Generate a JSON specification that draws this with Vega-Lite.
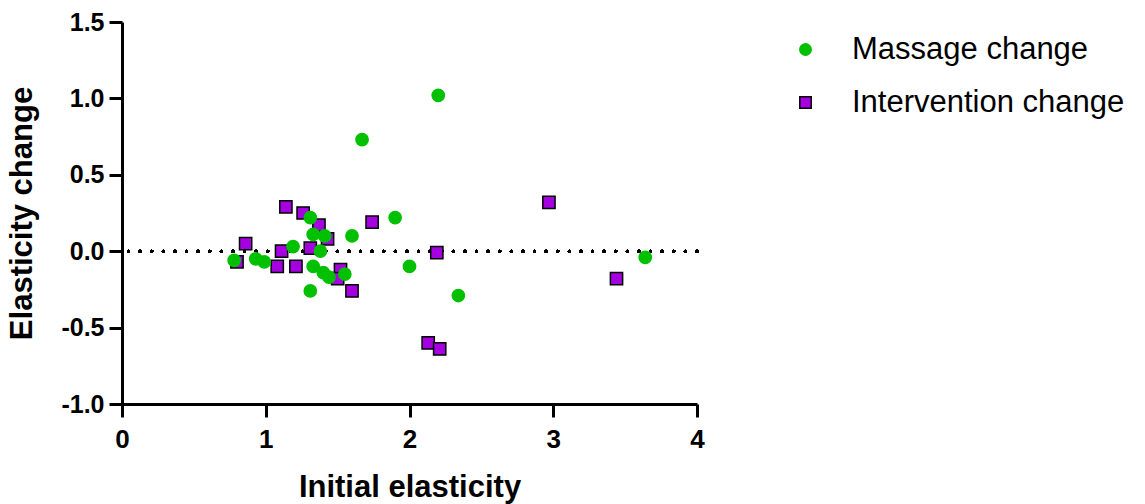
{
  "$schema": "https://vega.github.io/schema/vega-lite/v6.json",
  "width": 575,
  "height": 382,
  "autosize": {"type": "none"},
  "padding": {"left": 122, "top": 22, "right": 448, "bottom": 100},
  "background": "white",
  "config": {
    "view": {"stroke": null},
    "font": "Liberation Sans",
    "axis": {
      "domainColor": "black",
      "domainWidth": 3,
      "tickColor": "black",
      "tickWidth": 3,
      "tickSize": 13,
      "grid": false,
      "labelFlush": false,
      "labelFont": "Liberation Sans",
      "labelFontSize": 25,
      "labelFontWeight": "bold",
      "labelColor": "black",
      "labelPadding": 5,
      "titleFont": "Liberation Sans",
      "titleFontSize": 31,
      "titleFontWeight": "bold",
      "titleColor": "black"
    },
    "legend": {
      "title": null,
      "orient": "none",
      "legendX": 668,
      "legendY": 12,
      "padding": 0,
      "labelFont": "Liberation Sans",
      "labelFontSize": 31,
      "labelColor": "black",
      "labelOffset": 31,
      "labelLimit": 500,
      "rowPadding": 21,
      "symbolSize": 130,
      "symbolStrokeWidth": 1.5
    }
  },
  "data": {
    "values": [
      {"initial": 1.14, "change": 0.29, "series": "Intervention change"},
      {"initial": 1.26, "change": 0.25, "series": "Intervention change"},
      {"initial": 1.37, "change": 0.17, "series": "Intervention change"},
      {"initial": 1.43, "change": 0.08, "series": "Intervention change"},
      {"initial": 1.74, "change": 0.19, "series": "Intervention change"},
      {"initial": 0.86, "change": 0.05, "series": "Intervention change"},
      {"initial": 1.11, "change": 0.00, "series": "Intervention change"},
      {"initial": 1.31, "change": 0.02, "series": "Intervention change"},
      {"initial": 0.80, "change": -0.07, "series": "Intervention change"},
      {"initial": 1.08, "change": -0.10, "series": "Intervention change"},
      {"initial": 1.21, "change": -0.10, "series": "Intervention change"},
      {"initial": 1.52, "change": -0.12, "series": "Intervention change"},
      {"initial": 1.50, "change": -0.18, "series": "Intervention change"},
      {"initial": 1.60, "change": -0.26, "series": "Intervention change"},
      {"initial": 2.19, "change": -0.01, "series": "Intervention change"},
      {"initial": 2.13, "change": -0.60, "series": "Intervention change"},
      {"initial": 2.21, "change": -0.64, "series": "Intervention change"},
      {"initial": 2.97, "change": 0.32, "series": "Intervention change"},
      {"initial": 3.44, "change": -0.18, "series": "Intervention change"},
      {"initial": 0.78, "change": -0.06, "series": "Massage change"},
      {"initial": 0.93, "change": -0.05, "series": "Massage change"},
      {"initial": 0.99, "change": -0.07, "series": "Massage change"},
      {"initial": 1.19, "change": 0.03, "series": "Massage change"},
      {"initial": 1.31, "change": 0.22, "series": "Massage change"},
      {"initial": 1.33, "change": 0.11, "series": "Massage change"},
      {"initial": 1.41, "change": 0.10, "series": "Massage change"},
      {"initial": 1.60, "change": 0.10, "series": "Massage change"},
      {"initial": 1.38, "change": 0.00, "series": "Massage change"},
      {"initial": 1.33, "change": -0.10, "series": "Massage change"},
      {"initial": 1.40, "change": -0.14, "series": "Massage change"},
      {"initial": 1.44, "change": -0.17, "series": "Massage change"},
      {"initial": 1.55, "change": -0.15, "series": "Massage change"},
      {"initial": 1.31, "change": -0.26, "series": "Massage change"},
      {"initial": 1.67, "change": 0.73, "series": "Massage change"},
      {"initial": 1.90, "change": 0.22, "series": "Massage change"},
      {"initial": 2.00, "change": -0.10, "series": "Massage change"},
      {"initial": 2.20, "change": 1.02, "series": "Massage change"},
      {"initial": 2.34, "change": -0.29, "series": "Massage change"},
      {"initial": 3.64, "change": -0.04, "series": "Massage change"}
    ]
  },
  "layer": [
    {
      "mark": {"type": "rule", "color": "black", "strokeWidth": 3, "strokeDash": [0.1, 11.5], "strokeCap": "round"},
      "encoding": {
        "y": {"datum": 0, "type": "quantitative"}
      }
    },
    {
      "mark": {"type": "point", "filled": true, "opacity": 1, "strokeWidth": 1.5, "size": 150},
      "encoding": {
        "x": {
          "field": "initial",
          "type": "quantitative",
          "title": "Initial elasticity",
          "scale": {"domain": [0, 4], "nice": false, "zero": false},
          "axis": {"values": [0, 1, 2, 3, 4], "format": "d", "labelFontSize": 26, "labelPadding": 9, "titlePadding": 20}
        },
        "y": {
          "field": "change",
          "type": "quantitative",
          "title": "Elasticity change",
          "scale": {"domain": [-1, 1.5], "nice": false, "zero": false},
          "axis": {
            "values": [-1, -0.5, 0, 0.5, 1, 1.5],
            "labelExpr": "datum.value < 0 ? '-' + format(-datum.value, '.1f') : format(datum.value, '.1f')",
            "titlePadding": 22
          }
        },
        "fill": {
          "field": "series",
          "type": "nominal",
          "title": null,
          "scale": {"domain": ["Massage change", "Intervention change"], "range": ["#00C000", "#A500E0"]}
        },
        "stroke": {
          "field": "series",
          "type": "nominal",
          "title": null,
          "scale": {"domain": ["Massage change", "Intervention change"], "range": ["#00C000", "#000000"]}
        },
        "shape": {
          "field": "series",
          "type": "nominal",
          "title": null,
          "scale": {"domain": ["Massage change", "Intervention change"], "range": ["circle", "square"]}
        }
      }
    }
  ]
}
